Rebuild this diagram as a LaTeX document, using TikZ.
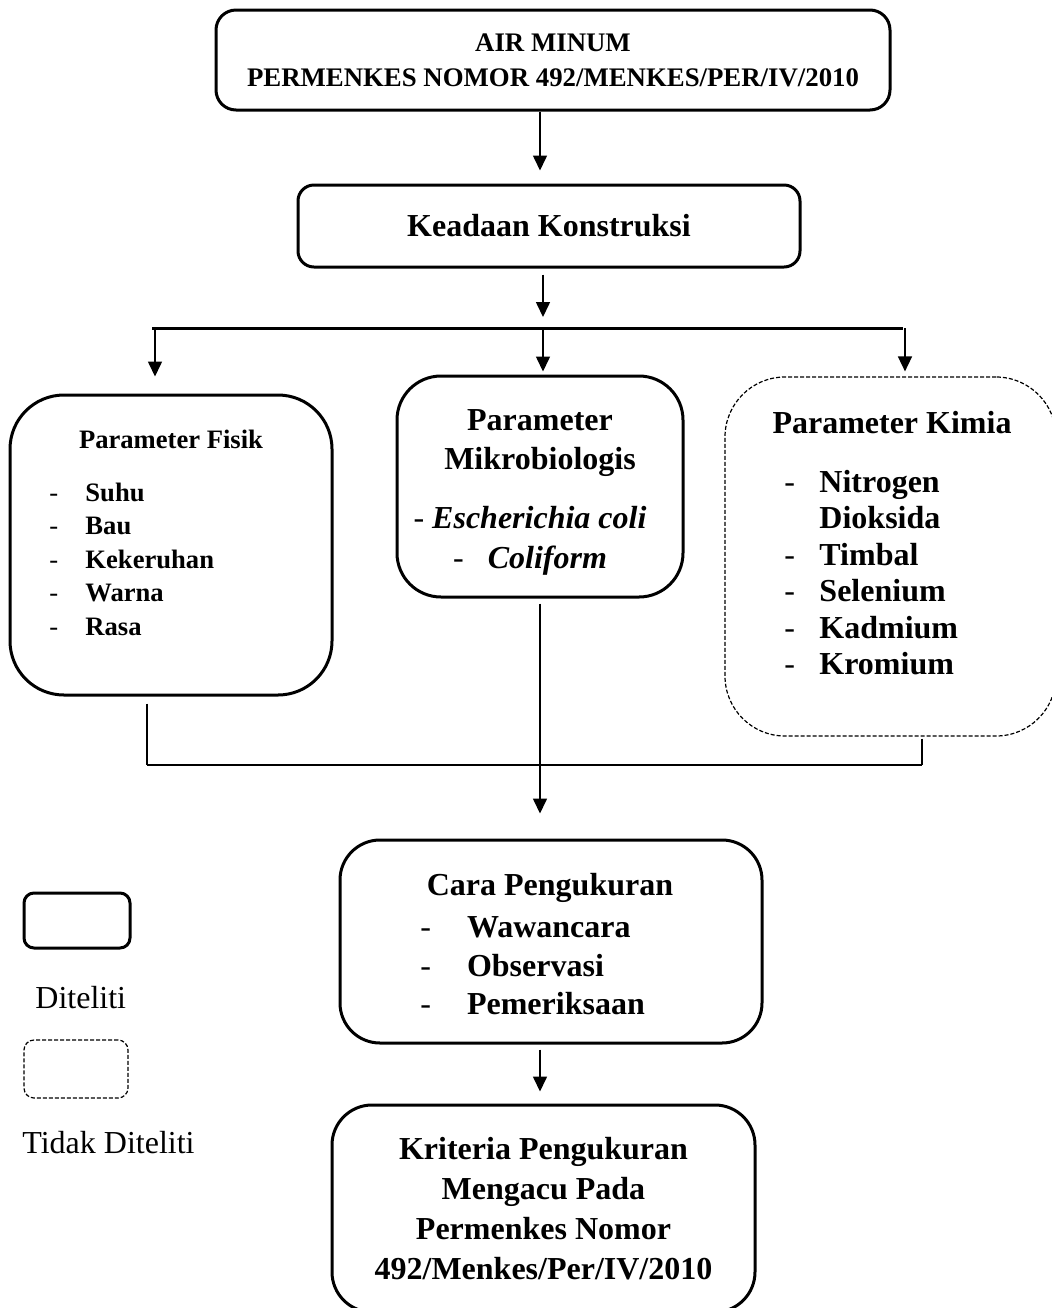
\documentclass[tikz,border=0pt]{standalone}
\usepackage{fontspec}
\setmainfont{Liberation Serif}
\usetikzlibrary{positioning,arrows.meta}

\begin{document}
\begin{tikzpicture}[
  x=0.5pt, y=-0.5pt,
  box/.style={
    draw,
    line width=1.5pt,
    inner sep=0pt,
    align=center,
    font=\bfseries\fontsize{16}{19.5}\selectfont,
  },
  dashbox/.style={
    draw,
    line width=0.6pt,
    dash pattern=on 2pt off 1pt,
    inner sep=0pt,
  },
  txt/.style={inner sep=0pt, align=center, font=\bfseries\fontsize{16}{19.5}\selectfont},
  list/.style={inner sep=0pt, anchor=base west},
  arr/.style={-{Triangle[length=7.5pt,width=7pt]}, line width=0.8pt},
  link/.style={line width=1.4pt},
  ]
  \useasboundingbox (0,0) rectangle (1052,1308);

  % boxes
  \node[box, rounded corners=10pt, minimum width=337pt, minimum height=50pt,
    font=\bfseries\fontsize{13.4}{17.5}\selectfont] (air) at (553,60)
    {AIR MINUM\\PERMENKES NOMOR 492/MENKES/PER/IV/2010};
  \node[box, rounded corners=8pt, minimum width=251pt, minimum height=41pt]
    (konstruksi) at (549,226) {Keadaan Konstruksi};

  \node[box, rounded corners=27pt, minimum width=161pt, minimum height=150pt] (fisik) at (171,545) {};
  \node[txt, font=\bfseries\fontsize{13.3}{16.75}\selectfont] (fisikJudul) at (171,439) {Parameter Fisik};
  \node[list, font=\bfseries\fontsize{13.3}{16.75}\selectfont] (fisikIsi) at (49,501)
    {\begin{tabular}[t]{@{}l@{\hspace{13.6pt}}l@{}}
      \mdseries- & Suhu\\ \mdseries- & Bau\\ \mdseries- & Kekeruhan\\
      \mdseries- & Warna\\ \mdseries- & Rasa
    \end{tabular}};

  \node[box, rounded corners=22pt, minimum width=143pt, minimum height=110.5pt] (mikro) at (540,486.5) {};
  \node[txt] (mikroJudul) at (540,443) {Parameter\\Mikrobiologis};
  \node[txt, font=\bfseries\itshape\fontsize{16}{20}\selectfont] (mikroIsi) at (530,541)
    {\textup{\mdseries-} Escherichia coli\\\textup{\mdseries-}\hspace{12pt}Coliform};

  \node[dashbox, rounded corners=30pt, minimum width=165.5pt, minimum height=179.5pt] (kimia) at (890.5,556.5) {};
  \node[txt] (kimiaJudul) at (892,423) {Parameter Kimia};
  \node[list, font=\bfseries\fontsize{16}{18.2}\selectfont] (kimiaIsi) at (784,492.5)
    {\begin{tabular}[t]{@{}l@{\hspace{12.2pt}}l@{}}
      \mdseries- & Nitrogen\\ & Dioksida\\ \mdseries- & Timbal\\
      \mdseries- & Selenium\\ \mdseries- & Kadmium\\ \mdseries- & Kromium
    \end{tabular}};

  \node[box, rounded corners=20pt, minimum width=211pt, minimum height=101.5pt] (cara) at (551,941.5) {};
  \node[txt] (caraJudul) at (550,888) {Cara Pengukuran};
  \node[list, font=\bfseries\fontsize{16}{19.25}\selectfont] (caraIsi) at (420,937.5)
    {\begin{tabular}[t]{@{}l@{\hspace{18pt}}l@{}}
      \mdseries- & Wawancara\\ \mdseries- & Observasi\\ \mdseries- & Pemeriksaan
    \end{tabular}};

  \node[box, rounded corners=20pt, minimum width=211.5pt, minimum height=103.5pt,
    font=\bfseries\fontsize{16}{20}\selectfont] (kriteria) at (543.5,1208.5)
    {Kriteria Pengukuran\\Mengacu Pada\\Permenkes Nomor\\492/Menkes/Per/IV/2010};

  % legend
  \node[box, rounded corners=5pt, minimum width=53pt, minimum height=27.5pt] (diteliti) at (77,920.5) {};
  \node[anchor=west, inner sep=0pt, font=\fontsize{16}{19}\selectfont] (ditelitiTeks) at (35,998) {Diteliti};
  \node[dashbox, rounded corners=5pt, minimum width=52pt, minimum height=29pt] (tidak) at (76,1069) {};
  \node[anchor=west, inner sep=0pt, font=\fontsize{16}{19}\selectfont] (tidakTeks) at (22,1143) {Tidak Diteliti};

  % connectors
  \coordinate (airOut) at ([xshift=-6.5pt]air.south);
  \draw[arr, shorten >=6.5pt] (airOut) -- (airOut |- konstruksi.north);

  \coordinate (barL) at (152,328);
  \coordinate (barM) at (543,328);
  \coordinate (barR) at (903,328);
  \coordinate (fisikIn) at (155,328);
  \coordinate (kimiaIn) at (905,328);
  \draw[arr, shorten <=3pt, shorten >=5.5pt] (konstruksi.south -| barM) -- (barM);
  \draw[line width=1.5pt] (barL) -- (barR);
  \draw[arr, shorten >=8.5pt] (fisikIn) -- (fisikIn |- fisik.north);
  \draw[arr, shorten >=1.5pt] (barM) -- (barM |- mikro.north);
  \draw[arr, shorten >=2.5pt] (kimiaIn) -- (kimiaIn |- kimia.north);

  \coordinate (joinL) at (147,765);
  \coordinate (joinR) at (922,765);
  \draw[link, shorten <=3.5pt] (joinL |- fisik.south) -- (joinL);
  \draw[link, shorten <=1pt] (joinR |- kimia.south) -- (joinR);
  \draw[line width=1pt] (joinL) -- (joinR);
  \draw[arr, shorten <=2.5pt, shorten >=12.5pt] (mikro.south) -- (mikro.south |- cara.north);

  \coordinate (caraOut) at ([xshift=-5.5pt]cara.south);
  \draw[arr, shorten <=2.5pt, shorten >=6pt] (caraOut) -- (caraOut |- kriteria.north);
\end{tikzpicture}
\end{document}
